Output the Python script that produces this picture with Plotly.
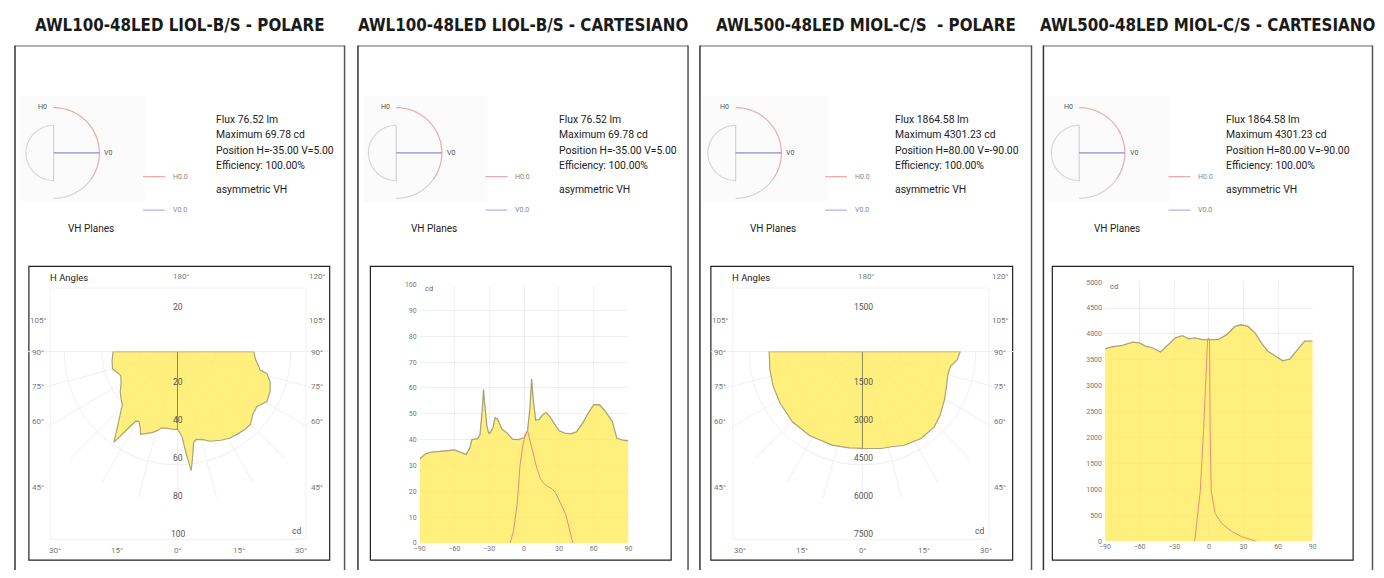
import numpy as np
import plotly.graph_objects as go

# page is 1384x578; the figure div sits 8px in from the page corner (body margin)
OFF = 8
W, H = 1384 - 2 * OFF, 578 - 2 * OFF

# ---------------- data ----------------
titles = ["AWL100-48LED LIOL-B/S - POLARE", "AWL100-48LED LIOL-B/S - CARTESIANO",
          "AWL500-48LED MIOL-C/S  - POLARE", "AWL500-48LED MIOL-C/S - CARTESIANO"]

info_a = ["Flux 76.52 lm", "Maximum 69.78 cd", "Position H=-35.00 V=5.00", "Efficiency: 100.00%"]
info_b = ["Flux 1864.58 lm", "Maximum 4301.23 cd", "Position H=80.00 V=-90.00", "Efficiency: 100.00%"]
sym_text = "asymmetric VH"
planes_title = "VH Planes"
legend_names = ["H0.0", "V0.0"]
mini_labels = ["H0", "V0"]

# polar diagram 1 (cd)
p1_theta = [-90, -82, -75, -70, -67, -60, -55, -50, -46, -42, -39.5, -35, -33.4, -31, -29, -26, -24,
            -21, -17.5, -14, -11.7, -7, -3, 0, 3, 5, 6.6, 8.5, 10, 12, 16, 20, 26, 31, 36, 41, 45,
            50, 55.4, 60.8, 66.6, 71.9, 76.2, 77.3, 81, 84.7, 90]
p1_r = [34.1, 35.0, 35.6, 33.5, 32.6, 34.5, 37, 39, 40.6, 45.5, 49.4, 58.7, 50.8, 43, 42.2, 45, 48,
        46.5, 45, 43, 41.2, 41, 41.3, 41, 45, 55, 63.4, 55, 49, 47.5, 48.5, 50.5, 52.2, 53.5, 54, 54.5, 54.6,
        52, 51.1, 54.2, 53.4, 51.6, 48.7, 44.9, 43, 41.4, 40.4]

# polar diagram 3 (cd)
p3_theta = [-90, -79, -69, -58, -45, -32, -18, -8, 0, 11, 17, 24, 34, 43.5, 50.4, 60, 67.7, 75, 80.5, 85, 90]
p3_r = [3703, 3746, 3802, 3858, 3937, 3939, 3905, 3860, 3846, 3920, 3951, 4072, 4160, 4133, 3991,
        3768, 3608, 3511, 3543, 3770, 3885]

# cartesian diagram 2
c2_h = [-90, -85, -80, -75, -70, -65, -60, -55, -50, -47, -45, -40, -38, -36, -35, -34, -32, -30.5,
        -29, -27, -25, -23, -21, -19, -15, -10, -5, 0, 3, 5, 6.5, 8, 10, 13, 16, 19, 22, 25, 30, 35,
        40, 45, 50, 55, 60, 65, 70, 73, 76, 80, 85, 90]
c2_y = [32.5, 34.5, 35.2, 35.4, 35.6, 35.8, 36, 35.2, 34.3, 36.5, 40, 40.4, 42, 52, 59.5, 54, 45, 42.5,
        42.8, 44.5, 48.5, 48, 46, 44, 42.7, 40.2, 40, 40.8, 43.5, 52, 63.5, 55, 47.5, 47.8, 49.5, 50.5,
        49, 47, 43.5, 42.5, 42.2, 43, 46, 50, 53.5, 53.5, 51, 49, 47, 40.5, 39.8, 39.5]
c2_red_h = [-12, -9, -6, -3.5, -1, 1, 3, 5, 8, 11, 14, 17, 20, 24, 27, 30, 33, 36, 39, 42]
c2_red = [0, 5, 15, 30, 38, 42, 43.5, 40, 34, 29, 25, 23, 22, 21, 19.5, 17, 14, 11, 6, 0]

# cartesian diagram 4
c4_h = [-90, -83, -75, -66, -60, -55, -49, -42, -35, -29, -23, -17.5, -12, -6, 0, 8, 15.5, 22.6, 28,
        34, 40, 45.5, 51, 57, 64, 70, 77, 83, 90]
c4_y = [3715, 3753, 3778, 3842, 3829, 3766, 3734, 3652, 3797, 3924, 3968, 3905, 3924, 3892, 3892, 3892,
        3987, 4145, 4177, 4145, 4019, 3829, 3671, 3576, 3481, 3513, 3703, 3861, 3861]
c4_red_h = [-12.3, -7.4, -4.6, -2.6, -1.1, -0.3, 0.6, 1.1, 2, 5.4, 11, 19.8, 28, 37, 41.5]
c4_red = [0, 980, 2120, 3130, 3890, 3924, 3860, 2250, 980, 540, 350, 190, 95, 30, 0]

# tick labels
p1_rticks = [20, 40, 60, 80, 100]
p3_rticks = [1500, 3000, 4500, 6000, 7500]
side_angles = ["105°", "90°", "75°", "60°", "45°"]
bottom_angles = ["30°", "15°", "0°", "15°", "30°"]
top_angles = ["180°", "120°"]
c_xticks = [-90, -60, -30, 0, 30, 60, 90]

# ---------------- styles ----------------
FILL = "rgba(255,236,95,0.82)"
EDGE = "#aba37c"
RED = "#ef8c72"
GRID = "#efefef"
FONT = "Roboto, Arial, sans-serif"
TFONT = "Liberation Sans Narrow, DejaVu Sans Condensed, Roboto, sans-serif"


def fx(x):
    return (x - OFF) / W


def fy(y):
    return 1 - (y - OFF) / H


fig = go.Figure()
shapes = []
ann = []


def text(x, y, s, size=10, color="#222", xanchor="center", family=FONT):
    ann.append(dict(x=fx(x), y=fy(y), xref="paper", yref="paper", text=s, showarrow=False,
                    xanchor=xanchor, yanchor="middle", font=dict(size=size, color=color, family=family)))


def line(x0, y0, x1, y1, color, width=1):
    shapes.append(dict(type="line", xref="paper", yref="paper", x0=fx(x0), y0=fy(y0), x1=fx(x1), y1=fy(y1),
                       line=dict(color=color, width=width)))


def rect(x0, y0, x1, y1, color=None, fill=None, width=1):
    shapes.append(dict(type="rect", xref="paper", yref="paper", x0=fx(x0), y0=fy(y0), x1=fx(x1), y1=fy(y1),
                       line=dict(color=color or "rgba(0,0,0,0)", width=width if color else 0),
                       fillcolor=fill or "rgba(0,0,0,0)", layer="below"))


def arc(cx, cy, r, a0, a1, color, width=1.2):
    a = np.radians(np.linspace(a0, a1, 40))
    xs = cx + r * np.cos(a)
    ys = cy - r * np.sin(a)
    p = "M " + " L ".join(f"{fx(x):.5f},{fy(y):.5f}" for x, y in zip(xs, ys))
    shapes.append(dict(type="path", xref="paper", yref="paper", path=p, line=dict(color=color, width=width)))


outer_left = [9, 354.5, 699, 1045]
outer_right = [341, 687, 1033, 1376.5]
inner_left = [23, 367, 710, 1054]
inner_right = [326, 670, 1014, 1357]
IN_TOP, IN_BOT = 266, 564
mini_off = [0, 345, 687, 1033]
info_x = [209, 555, 893, 1227]
info_sets = [info_a, info_a, info_b, info_b]

for i in range(4):
    # titles
    text((outer_left[i] + outer_right[i]) / 2, 21, f"<b>{titles[i]}</b>", size=16.8, color="#1a1a1a", family=TFONT)
    # outer panel frame
    line(outer_left[i], 42.5, outer_right[i], 42.5, "#9a9a9a", 1.5)
    line(outer_left[i], 42, outer_left[i], 600, "#333", 1.5)
    line(outer_right[i], 42, outer_right[i], 600, "#555", 1.5)
    # inner chart frame
    rect(inner_left[i], IN_TOP, inner_right[i], IN_BOT, color="#222", width=1.2)
    # mini VH plane diagram
    o = mini_off[i]
    cx, cy = 48 + o, 151
    rect(15 + o, 93, 140 + o, 201, fill="#fbfbfb")
    arc(cx, cy, 28, 90, 270, "#d8d8d8")
    arc(cx, cy, 46, 90, -35, "#eeaaaa")
    arc(cx, cy, 46, -35, -90, "#d4d4d4")
    line(cx, cy - 28, cx, cy + 29, "#cccccc", 1)
    line(cx, cy, cx + 46, cy, "#8e8ecc", 1.2)
    text(cx - 11, 104, mini_labels[0], size=7, color="#555")
    text(cx + 55, cy, mini_labels[1], size=7, color="#555")
    line(138 + o, 175, 160 + o, 175, "#eeaaaa", 1.2)
    text(166 + o, 175, legend_names[0], size=7, color="#888", xanchor="left")
    line(138 + o, 209, 160 + o, 209, "#b0b0e0", 1.2)
    text(166 + o, 209, legend_names[1], size=7, color="#888", xanchor="left")
    text(86 + o, 228, planes_title, size=10, color="#222")
    # info text
    for k, s in enumerate(info_sets[i]):
        text(info_x[i], 117 + 15.7 * k, s, size=10.4, color="#222", xanchor="left")
    text(info_x[i], 188, sym_text, size=10.4, color="#222", xanchor="left")

# ---------------- polar panels ----------------
polar_specs = [
    dict(name="polar", cx=172.7, theta=p1_theta, r=p1_r, rmax=80, ticks=p1_rticks, left=23, right=326),
    dict(name="polar2", cx=862.7, theta=p3_theta, r=p3_r, rmax=6000, ticks=p3_rticks, left=710, right=1014),
]
CY = 352.5
RPX = 153.3
for sp in polar_specs:
    fig.add_trace(go.Scatterpolar(theta=[-90] + sp["theta"] + [90], r=[0] + sp["r"] + [0],
                                  mode="lines", fill="toself", fillcolor=FILL,
                                  line=dict(color=EDGE, width=1.2), subplot=sp["name"], showlegend=False,
                                  hoverinfo="skip"))
    r0 = sp["r"][sp["theta"].index(0)]
    fig.add_trace(go.Scatterpolar(theta=[0, 0], r=[0, r0], mode="lines",
                                  line=dict(color="#8f875c", width=1), subplot=sp["name"], showlegend=False,
                                  hoverinfo="skip"))
    cx = sp["cx"]
    fig.update_layout(**{sp["name"]: dict(
        domain=dict(x=[fx(cx - RPX), fx(cx + RPX)], y=[fy(CY + RPX), fy(CY)]),
        sector=[180, 360], bgcolor="rgba(0,0,0,0)",
        radialaxis=dict(range=[0, sp["rmax"]], tickvals=sp["ticks"][:-1], showticklabels=False,
                        showline=False, ticks="", showgrid=True, gridcolor=GRID, gridwidth=1,
                        linecolor="white"),
        angularaxis=dict(rotation=270, direction="counterclockwise", tick0=0, dtick=15,
                         showticklabels=False, ticks="", showline=False, showgrid=True,
                         gridcolor=GRID, linecolor="white"),
    )})
    scale = RPX / sp["rmax"]
    # faint inner frame
    rect(sp["left"] + 22, 288, sp["right"] - 24, 543, color="#f2f2f2", width=1)
    # radial tick labels
    text(cx + 1, CY - sp["ticks"][0] * scale - 7, str(sp["ticks"][0]), size=8.5, color="#555")
    for v in sp["ticks"]:
        text(cx + 1, CY + v * scale - 7, str(v), size=8.5, color="#555")
    # angle labels
    side_y = [321, 353, 388, 423, 490]
    for lab, yy in zip(side_angles, side_y):
        text(sp["left"] + 9, yy, lab, size=8, color="#777")
        text(sp["right"] - 13, yy, lab, size=8, color="#777")
    for lab, dx in zip(bottom_angles, [-123, -61, 0, 62, 124]):
        text(cx + dx, 554, lab, size=8, color="#777")
    text(cx + 4, 276, top_angles[0], size=8, color="#777")
    text(sp["right"] - 13, 276, top_angles[1], size=8, color="#777")
    text(sp["left"] + 19, 277, "H Angles", size=9.5, color="#222", xanchor="left")
    text(sp["right"] - 33, 535, "cd", size=8.5, color="#555")

# ---------------- cartesian panels ----------------
cart_specs = [
    dict(xa="x", ya="y", xl="xaxis", yl="yaxis", h=c2_h, y=c2_y, rh=c2_red_h, rv=c2_red,
         x0=416.7, x1=627, y0=284.5, y1=546.7, ymax=100, dt=10),
    dict(xa="x2", ya="y2", xl="xaxis2", yl="yaxis2", h=c4_h, y=c4_y, rh=c4_red_h, rv=c4_red,
         x0=1107, x1=1316.3, y0=282, y1=545, ymax=5000, dt=500),
]
for sp in cart_specs:
    fig.add_trace(go.Scatter(x=sp["h"], y=sp["y"], mode="lines", fill="tozeroy", fillcolor=FILL,
                             line=dict(color=EDGE, width=1.3), xaxis=sp["xa"], yaxis=sp["ya"],
                             showlegend=False, hoverinfo="skip"))
    fig.add_trace(go.Scatter(x=sp["rh"], y=sp["rv"], mode="lines", line=dict(color=RED, width=1),
                             xaxis=sp["xa"], yaxis=sp["ya"], showlegend=False, hoverinfo="skip"))
    fig.update_layout(**{
        sp["xl"]: dict(domain=[fx(sp["x0"]), fx(sp["x1"])], anchor=sp["ya"], range=[-90, 90],
                       tickvals=c_xticks, showgrid=True, gridcolor=GRID, zeroline=False, showline=False,
                       ticks="", tickfont=dict(size=7, color="#777", family=FONT), ticklabelstandoff=0),
        sp["yl"]: dict(domain=[fy(sp["y1"]), fy(sp["y0"])], anchor=sp["xa"], range=[0, sp["ymax"]],
                       dtick=sp["dt"], showgrid=True, gridcolor=GRID, zeroline=False, showline=False,
                       ticks="", tickfont=dict(size=7, color="#777", family=FONT), ticklabelstandoff=2),
    })
    text(sp["x0"] + 9, sp["y0"] + 4, "cd", size=7.5, color="#666")

fig.update_layout(width=W, height=H, margin=dict(l=0, r=0, t=0, b=0), autosize=False,
                  paper_bgcolor="white", plot_bgcolor="white", shapes=shapes, annotations=ann,
                  font=dict(family=FONT))
fig.write_html("out.html")
